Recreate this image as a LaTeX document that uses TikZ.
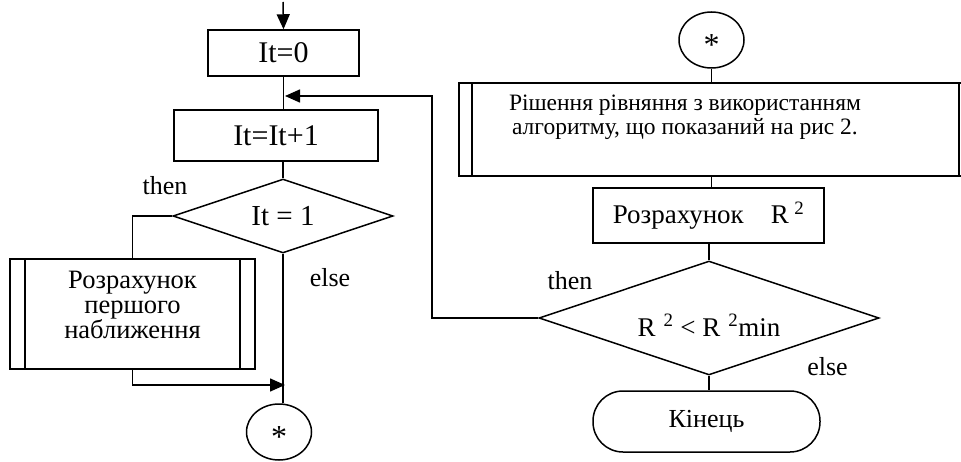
\documentclass[tikz,border=0pt]{standalone}
\usepackage{fontspec}
\setmainfont{Liberation Serif}
\usetikzlibrary{arrows.meta,shapes.geometric}
\tikzset{
  flowline/.style={line width=1.5pt,draw=black},
  flowarrow/.style={flowline,-{Triangle[length=15pt,width=13pt]}},
  blockbox/.style={rectangle,draw,line width=1.5pt,inner sep=0pt,font=\fontsize{30}{32}\selectfont},
  subbox/.style={rectangle,draw,line width=1.5pt,inner sep=0pt,
    path picture={
      \draw[line width=1.5pt] ([xshift=#1]path picture bounding box.north west) -- ([xshift=#1]path picture bounding box.south west);
      \draw[line width=1.5pt] ([xshift=-#1]path picture bounding box.north east) -- ([xshift=-#1]path picture bounding box.south east);
    }},
  subbox/.default=15pt,
  decision/.style={diamond,draw,line width=1.5pt,aspect=3,inner sep=0pt},
  terminal/.style={rectangle,rounded corners=30pt,draw,line width=1.5pt,inner sep=0pt,font=\fontsize{26}{28}\selectfont},
  connector/.style={ellipse,draw,line width=1.5pt,minimum width=65pt,minimum height=56pt,inner sep=0pt,font=\fontsize{32}{34}\selectfont},
  boxtext/.style={align=center,inner sep=0pt},
  branch/.style={inner sep=0pt,font=\fontsize{26}{28}\selectfont},
}
\begin{document}
\begin{tikzpicture}[x=1pt,y=-1pt]
    \useasboundingbox (0,0) rectangle (961,462);

    % left column
    \coordinate (entry) at (283,2);
    \node[blockbox,minimum width=151pt,minimum height=46pt] (init) at (283.5,53) {It=0};
    \node[blockbox,minimum width=204pt,minimum height=51pt] (incr) at (276,135.5) {It=It+1};
    \node[decision,minimum width=220pt,minimum height=74pt,font=\fontsize{29}{31}\selectfont] (first) at (283,216) {It = 1};
    \node[subbox,minimum width=245pt,minimum height=110pt] (approx) at (132.5,314) {};
    \node[boxtext,font=\fontsize{26.5}{25}\selectfont] (approxtext) at (132.5,305) {Розрахунок\\першого\\наближення};
    \node[connector] (goto) at (279,432) {\smash{\raisebox{-0.47em}{*}}};
    \node[branch] (then1) at (165,186) {then};
    \node[branch] (else1) at (330,278) {else};
    \coordinate (join) at (285,96);
    \coordinate (merge) at (285,385);

    \draw[flowarrow] (entry) -- (init.north);
    \draw[flowline] (init.south) -- (init.south |- incr.north);
    \draw[flowline] (first.north |- incr.south) -- (first.north);
    \draw[flowline] (first.west) -| (approx.north);
    \draw[flowarrow] (approx.south) |- (merge);
    \draw[flowline] (first.south) -- (first.south |- goto.north);

    % right column
    \node[connector] (from) at (711.5,40) {\smash{\raisebox{-0.47em}{*}}};
    \node[subbox=13pt,minimum width=513pt,minimum height=93pt] (solve) at (715.5,129.5) {};
    \node[boxtext,font=\fontsize{23.5}{24}\selectfont] (solvetext) at (685,117) {Рішення рівняння з використанням\\алгоритму, що показаний на рис 2.};
    \node[blockbox,minimum width=231pt,minimum height=55pt,font=\fontsize{27}{29}\selectfont] (calc) at (708.5,215.5) {Розрахунок\hspace{1em}R\hspace{0.2em}\textsuperscript{2}};
    \node[decision,minimum width=340pt,minimum height=114pt,text height=38pt,text depth=2pt,font=\fontsize{27}{29}\selectfont] (check) at (709,318) {R\hspace{0.3em}\textsuperscript{2} < R\hspace{0.3em}\textsuperscript{2}min};
    \node[terminal,minimum width=227pt,minimum height=61pt] (stop) at (706.5,421.5) {Кінець};
    \node[branch] (then2) at (570,281) {then};
    \node[branch] (else2) at (827.5,367) {else};
    \coordinate (back) at (432,96);

    \draw[flowline] (from.south) -- (from.south |- solve.north);
    \draw[flowline] (from.south |- solve.south) -- (from.south |- calc.north);
    \draw[flowline] (check.north |- calc.south) -- (check.north);
    \draw[flowline] (check.south) -- (check.south |- stop.north);
    \draw[flowarrow] (check.west) -| (back) -- (join);
\end{tikzpicture}
\end{document}
